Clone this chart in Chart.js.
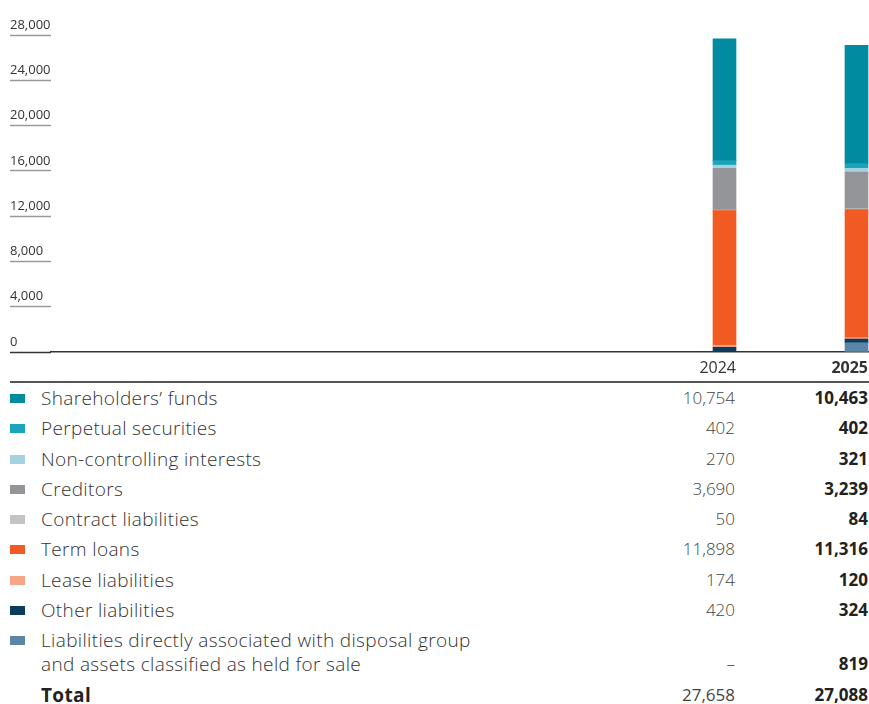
<!DOCTYPE html>
<html>
<head>
  <title>Total liabilities and equity</title>
  <script src="https://cdn.jsdelivr.net/npm/chart.js"></script>
  <style>
    body {
      font-family: "Open Sans", "Noto Sans", Arial, sans-serif;
      margin: 0;
      background-color: #ffffff;
      color: #333;
    }
    #wrap {
      position: relative;
      width: 869px;
      height: 381px;
      overflow: hidden;
    }
    table {
      border-collapse: collapse;
      margin-left: 10px;
      width: 859px;
      border-top: 2px solid #555;
      font-size: 19px;
      font-weight: 300;
    }
    td {
      padding: 3px 0 3.3px 0;
      line-height: 24px;
      vertical-align: bottom;
    }
    td.lb { letter-spacing: 0.35px; }
    td.sw { width: 31px; vertical-align: top; }
    td.sw span {
      display: block;
      width: 15px;
      height: 9px;
      margin-top: 8px;
    }
    td.v1 { text-align: right; width: 140px; font-size: 17px; color: #444; }
    td.v2 { text-align: right; width: 133px; font-size: 17px; font-weight: 700; color: #222; padding-right: 1px; }
    tr.total td { font-weight: 700; color: #222; }
    tr.total td.v1 { font-weight: 400; color: #444; }
  </style>
</head>
<body>
  <div id="wrap">
    <canvas id="grafico" width="869" height="381"></canvas>
  </div>
  <table id="tabela"></table>

  <script>
    var anos = ["2024", "2025"];
    var categorias = [
      "Shareholders\u2019 funds",
      "Perpetual securities",
      "Non-controlling interests",
      "Creditors",
      "Contract liabilities",
      "Term loans",
      "Lease liabilities",
      "Other liabilities",
      "Liabilities directly associated with disposal group<br>and assets classified as held for sale"
    ];
    var valores2024 = [10754, 402, 270, 3690, 50, 11898, 174, 420, null];
    var valores2025 = [10463, 402, 321, 3239, 84, 11316, 120, 324, 819];
    var cores = ["#008ba0", "#1ba5ba", "#a3d3de", "#939598", "#c2c3c5", "#f15a22", "#f8a585", "#0c3b5e", "#5a86a9"];
    var totais = [27658, 27088];
    var yTicks = [0, 4000, 8000, 12000, 16000, 20000, 24000, 28000];

    function fmt(n) {
      return n == null ? "\u2013" : n.toLocaleString("en-US");
    }

    // datasets: first one sits at the bottom of the stack
    var datasets = [];
    for (var i = categorias.length - 1; i >= 0; i--) {
      datasets.push({
        label: categorias[i],
        data: [
          { x: parseInt(anos[0]), y: valores2024[i] },
          { x: parseInt(anos[1]), y: valores2025[i] }
        ],
        backgroundColor: cores[i],
        borderWidth: 0,
        barThickness: 23
      });
    }

    var ctx = document.getElementById("grafico").getContext("2d");
    var chart = new Chart(ctx, {
      type: "bar",
      data: { datasets: datasets },
      options: {
        responsive: false,
        animation: false,
        layout: { autoPadding: false, padding: { left: 10, right: 0, top: 35, bottom: 0 } },
        plugins: { legend: { display: false }, tooltip: { enabled: false } },
        scales: {
          x: {
            type: "linear",
            stacked: true,
            offset: false,
            min: 2018.8977,
            max: 2025.0947,
            afterBuildTicks: function (axis) {
              axis.ticks = anos.map(function (a) { return { value: parseInt(a) }; });
            },
            afterFit: function (axis) { axis.height = 29; },
            grid: { display: false, drawTicks: false },
            border: { display: true, color: "#333", width: 1.5 },
            ticks: {
              padding: 7,
              align: "end",
              labelOffset: 11.5,
              color: "#333",
              maxRotation: 0,
              autoSkip: false,
              font: function (c) {
                return { family: "'Open Sans', sans-serif", size: 16, weight: c.index === 1 ? "bold" : "normal" };
              },
              callback: function (v) { return String(v); }
            }
          },
          y: {
            stacked: true,
            min: 0,
            max: 28000,
            afterBuildTicks: function (axis) {
              axis.ticks = yTicks.map(function (v) { return { value: v }; });
            },
            afterFit: function (axis) { axis.width = 41; },
            border: { display: false },
            grid: {
              drawOnChartArea: false,
              drawTicks: true,
              tickLength: 41,
              tickColor: function (c) { return c.tick && c.tick.value === 0 ? "#333" : "#999"; },
              tickWidth: 1.5
            },
            ticks: {
              crossAlign: "far",
              padding: 0,
              labelOffset: -10,
              color: "#333",
              font: { family: "'Open Sans', sans-serif", size: 13 },
              callback: function (v) { return v.toLocaleString("en-US"); }
            }
          }
        }
      }
    });

    var tabela = document.getElementById("tabela");
    var html = "";
    for (var j = 0; j < categorias.length; j++) {
      html += "<tr><td class='sw'><span style='background:" + cores[j] + "'></span></td>" +
        "<td class='lb'>" + categorias[j] + "</td>" +
        "<td class='v1'>" + fmt(valores2024[j]) + "</td>" +
        "<td class='v2'>" + fmt(valores2025[j]) + "</td></tr>";
    }
    html += "<tr class='total'><td class='sw'></td><td class='lb'>Total</td>" +
      "<td class='v1'>" + fmt(totais[0]) + "</td><td class='v2'>" + fmt(totais[1]) + "</td></tr>";
    tabela.innerHTML = html;
  </script>
</body>
</html>
